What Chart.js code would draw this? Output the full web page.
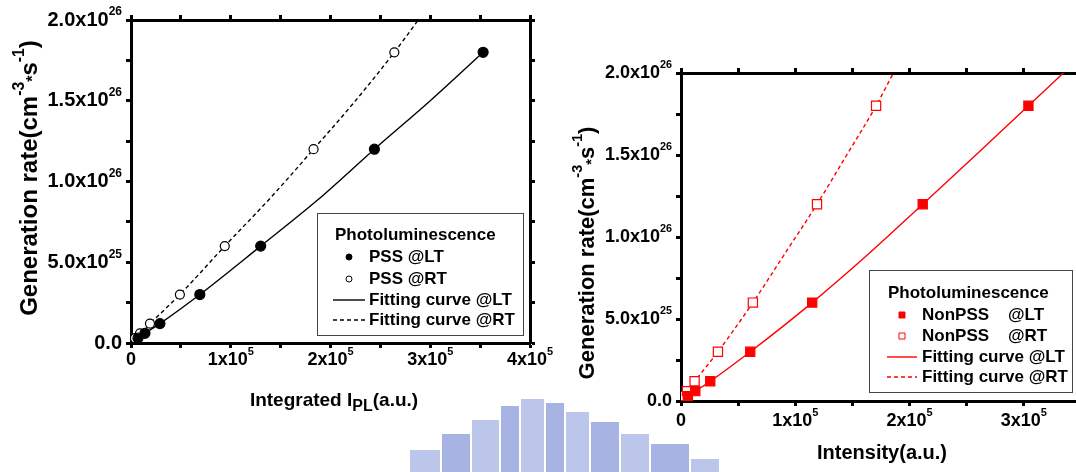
<!DOCTYPE html>
<html>
<head>
<meta charset="utf-8">
<script src="https://cdn.jsdelivr.net/npm/chart.js@4.4.0/dist/chart.umd.min.js"></script>
<style>
  html, body { margin: 0; padding: 0; background: #fff; overflow: hidden; width: 1076px; height: 472px; }
  .panel { position: absolute; top: 0; width: 560px; height: 472px; }
  .logo { position: absolute; background: #bcc5ea; }
  .logo.d { background: #a7b3e2; }
</style>
</head>
<body>
<!-- faint watermark blocks at the bottom -->
<div class="logo" style="left:410px;top:450px;width:30px;height:22px"></div>
<div class="logo d" style="left:442px;top:434px;width:28px;height:38px"></div>
<div class="logo" style="left:472px;top:420px;width:27px;height:52px"></div>
<div class="logo d" style="left:501px;top:406px;width:18px;height:66px"></div>
<div class="logo" style="left:521px;top:399px;width:23px;height:73px"></div>
<div class="logo d" style="left:546px;top:403px;width:18px;height:69px"></div>
<div class="logo" style="left:566px;top:412px;width:23px;height:60px"></div>
<div class="logo d" style="left:591px;top:422px;width:28px;height:50px"></div>
<div class="logo" style="left:621px;top:434px;width:28px;height:38px"></div>
<div class="logo d" style="left:651px;top:444px;width:38px;height:28px"></div>
<div class="logo" style="left:691px;top:459px;width:28px;height:13px"></div>

<div class="panel" style="left:0"><canvas id="chartL" width="560" height="472"></canvas></div>
<div class="panel" style="left:560px"><canvas id="chartR" width="560" height="472"></canvas></div>

<script>
// ---- left panel : PSS, Integrated I_PL (a.u.) vs generation rate ----
var pssLtX = [0.07e5, 0.14e5, 0.29e5, 0.69e5, 1.30e5, 2.44e5, 3.53e5];
var pssLtY = [3e24, 6e24, 1.2e25, 3e25, 6e25, 1.2e26, 1.8e26];
var pssRtX = [0.04e5, 0.09e5, 0.19e5, 0.49e5, 0.94e5, 1.83e5, 2.64e5];
var pssRtY = [3e24, 6e24, 1.2e25, 3e25, 6e25, 1.2e26, 1.8e26];
var fitPssLtX = [0.01e5, 0.07e5, 0.14e5, 0.29e5, 0.69e5, 1.30e5, 1.87e5, 2.44e5, 3.00e5, 3.53e5];
var fitPssLtY = [0, 3e24, 6e24, 1.2e25, 3e25, 6e25, 8.85e25, 1.2e26, 1.5e26, 1.8e26];
var fitPssRtX = [0.01e5, 0.04e5, 0.09e5, 0.19e5, 0.49e5, 0.94e5, 1.40e5, 1.83e5, 2.25e5, 2.64e5, 2.88e5];
var fitPssRtY = [0, 3e24, 6e24, 1.2e25, 3e25, 6e25, 9.0e25, 1.2e26, 1.5e26, 1.8e26, 2.0e26];

// ---- right panel : NonPSS, Intensity (a.u.) vs generation rate ----
var nonLtX = [0.06e5, 0.125e5, 0.256e5, 0.606e5, 1.148e5, 2.115e5, 3.04e5];
var nonLtY = [3e24, 6e24, 1.2e25, 3e25, 6e25, 1.2e26, 1.8e26];
var nonRtX = [0.02e5, 0.052e5, 0.119e5, 0.323e5, 0.629e5, 1.19e5, 1.707e5];
var nonRtY = [3e24, 6e24, 1.2e25, 3e25, 6e25, 1.2e26, 1.8e26];
var fitNonLtX = [0.01e5, 0.06e5, 0.125e5, 0.256e5, 0.606e5, 1.148e5, 1.63e5, 2.115e5, 2.58e5, 3.04e5, 3.345e5];
var fitNonLtY = [0, 3e24, 6e24, 1.2e25, 3e25, 6e25, 8.9e25, 1.2e26, 1.5e26, 1.8e26, 2.0e26];
var fitNonRtX = [0.005e5, 0.02e5, 0.052e5, 0.119e5, 0.323e5, 0.629e5, 0.91e5, 1.19e5, 1.45e5, 1.707e5, 1.858e5];
var fitNonRtY = [0, 3e24, 6e24, 1.2e25, 3e25, 6e25, 9.0e25, 1.2e26, 1.5e26, 1.8e26, 2.0e26];

// ---- ticks (major + minor marks) and labels ----
var yTicks = [0, 0.25e26, 0.5e26, 0.75e26, 1e26, 1.25e26, 1.5e26, 1.75e26, 2e26];
var yLabelVals = [0, 0.5e26, 1e26, 1.5e26, 2e26];
var yLabels = ['0.0', '5.0x10^25', '1.0x10^26', '1.5x10^26', '2.0x10^26'];
var xTicksL = [0, 0.5e5, 1e5, 1.5e5, 2e5, 2.5e5, 3e5, 3.5e5, 4e5];
var xLabelValsL = [0, 1e5, 2e5, 3e5, 4e5];
var xLabelsL = ['0', '1x10^5', '2x10^5', '3x10^5', '4x10^5'];
var xTicksR = [0, 0.5e5, 1e5, 1.5e5, 2e5, 2.5e5, 3e5, 3.5e5];
var xLabelValsR = [0, 1e5, 2e5, 3e5];
var xLabelsR = ['0', '1x10^5', '2x10^5', '3x10^5'];

var FONT = '"Liberation Sans", Arial, Helvetica, sans-serif';

function pts(xs, ys) {
  return xs.map(function (x, i) { return {x: x, y: ys[i]}; });
}

// "1.5x10^26" -> [['1.5x10',''],['26','sup']]
function supParts(s) {
  var p = s.split('^');
  return p.length > 1 ? [[p[0], ''], [p[1], 'sup']] : [[p[0], '']];
}

/*
 * draw a row of text pieces with super/subscripts
 * [segs] - list of [text, kind], kind is '' / 'sup' / 'sub'
 */
function richText(ctx, segs, x, y, o) {
  var w = 0, items = [];
  segs.forEach(function (s) {
    var size = s[1] ? o.small : o.size;
    ctx.font = 'bold ' + size + 'px ' + FONT;
    var mw = ctx.measureText(s[0]).width;
    items.push({t: s[0], size: size, w: mw, dy: s[1] === 'sup' ? o.supDy : (s[1] === 'sub' ? o.subDy : 0)});
    w += mw;
  });
  ctx.save();
  ctx.translate(x, y);
  if (o.rot) ctx.rotate(o.rot);
  var cx = o.align === 'right' ? -w : (o.align === 'left' ? 0 : -w / 2);
  ctx.textBaseline = 'middle';
  ctx.textAlign = 'left';
  ctx.fillStyle = '#000';
  items.forEach(function (it) {
    ctx.font = 'bold ' + it.size + 'px ' + FONT;
    ctx.fillText(it.t, cx, it.dy);
    cx += it.w;
  });
  ctx.restore();
}

// tick labels, axis titles and the boxed legend
var decorPlugin = {
  id: 'decor',
  afterDraw: function (chart, args, o) {
    var ctx = chart.ctx, xs = chart.scales.x, ys = chart.scales.y;

    o.yVals.forEach(function (v, i) {
      richText(ctx, supParts(o.yLabels[i]), xs.left - 9, ys.getPixelForValue(v),
        {size: o.yTickSize, small: o.yTickSize * 0.6, supDy: -8, align: 'right'});
    });
    o.xVals.forEach(function (v, i) {
      richText(ctx, supParts(o.xLabels[i]), xs.getPixelForValue(v), ys.bottom + o.xLabelDy,
        {size: 18, small: 11, supDy: -8, align: 'center'});
    });

    richText(ctx, o.yTitle, o.yTitlePos[0], o.yTitlePos[1],
      {size: o.yTitleSize, small: o.yTitleSize * 0.66, supDy: -10, subDy: 4, rot: -Math.PI / 2, align: 'center'});
    richText(ctx, o.xTitle, o.xTitlePos[0], o.xTitlePos[1],
      {size: o.xTitleSize, small: 16, subDy: 6, align: 'center'});

    // legend box
    var L = o.legend;
    ctx.save();
    ctx.fillStyle = '#fff';
    ctx.fillRect(L.box[0], L.box[1], L.box[2], L.box[3]);
    ctx.strokeStyle = '#444';
    ctx.lineWidth = 1;
    ctx.strokeRect(L.box[0] + 0.5, L.box[1] + 0.5, L.box[2], L.box[3]);
    ctx.restore();
    richText(ctx, [[L.title, '']], L.titlePos[0], L.titlePos[1], {size: 17, small: 12, align: 'left'});

    chart.data.datasets.forEach(function (ds, i) {
      var y = L.rows[i];
      ctx.save();
      if (ds.showLine) {
        ctx.strokeStyle = ds.borderColor;
        ctx.lineWidth = ds.borderWidth;
        ctx.setLineDash(ds.borderDash || []);
        ctx.beginPath();
        ctx.moveTo(L.lineX[0], y);
        ctx.lineTo(L.lineX[1], y);
        ctx.stroke();
      } else {
        ctx.fillStyle = ds.pointBackgroundColor;
        ctx.strokeStyle = ds.pointBorderColor;
        ctx.lineWidth = 1;
        ctx.beginPath();
        if (ds.pointStyle === 'rect') {
          ctx.rect(L.markX - 3, y - 3, 6, 6);
        } else {
          ctx.arc(L.markX, y, 3, 0, Math.PI * 2);
        }
        ctx.fill();
        ctx.stroke();
      }
      ctx.restore();
      richText(ctx, [[ds.label, '']], L.textX, y, {size: 17, small: 12, align: 'left'});
    });
  }
};

function axis(pos, min, max, ticks, size) {
  return {
    type: 'linear', position: pos, min: min, max: max,
    afterBuildTicks: function (s) { s.ticks = ticks.map(function (v) { return {value: v}; }); },
    afterFit: function (s) { if (s.isHorizontal()) s.height = size; else s.width = size; },
    ticks: {display: false},
    grid: {drawOnChartArea: false, drawTicks: true, tickLength: 5, tickWidth: 3, tickColor: '#000'},
    border: {display: true, width: 3, color: '#000'}
  };
}

function pointSet(label, xs, ys, style, fill, color, r) {
  return {
    label: label, data: pts(xs, ys), showLine: false,
    pointStyle: style, pointRadius: r, pointBackgroundColor: fill,
    pointBorderColor: color, pointBorderWidth: 1.2
  };
}

function curveSet(label, xs, ys, color, dash) {
  return {
    label: label, data: pts(xs, ys), showLine: true, pointRadius: 0,
    borderColor: color, borderWidth: 1.4, borderDash: dash,
    cubicInterpolationMode: 'monotone', fill: false
  };
}

function makeChart(id, datasets, scales, decor) {
  return new Chart(document.getElementById(id), {
    type: 'scatter',
    data: {datasets: datasets},
    options: {
      responsive: false, animation: false, events: [],
      layout: {padding: 0, autoPadding: false},
      scales: scales,
      plugins: {legend: {display: false}, tooltip: {enabled: false}, decor: decor}
    },
    plugins: [decorPlugin]
  });
}

var yTitle = [['Generation rate(cm', ''], ['-3', 'sup'], ['*', 'sub'], ['s', ''], ['-1', 'sup'], [')', '']];

makeChart('chartL', [
  pointSet('PSS @LT', pssLtX, pssLtY, 'circle', '#000', '#000', 5),
  pointSet('PSS @RT', pssRtX, pssRtY, 'circle', '#fff', '#000', 4.5),
  curveSet('Fitting curve @LT', fitPssLtX, fitPssLtY, '#000', []),
  curveSet('Fitting curve @RT', fitPssRtX, fitPssRtY, '#000', [4, 3])
], {
  x: axis('bottom', 0, 4e5, xTicksL, 129),
  x2: axis('top', 0, 4e5, xTicksL, 20),
  y: axis('left', 0, 2e26, yTicks, 131),
  y2: axis('right', 0, 2e26, yTicks, 30)
}, {
  yTickSize: 20, yTitleSize: 24, xTitleSize: 19,
  yVals: yLabelVals, yLabels: yLabels,
  xVals: xLabelValsL, xLabels: xLabelsL, xLabelDy: 17,
  yTitle: yTitle, yTitlePos: [30, 178],
  xTitle: [['Integrated I', ''], ['PL', 'sub'], ['(a.u.)', '']], xTitlePos: [334, 401],
  legend: {box: [317, 213, 206, 122], title: 'Photoluminescence', titlePos: [335, 235],
           rows: [257, 279, 300, 320], markX: 349, lineX: [333, 365], textX: 369}
});

makeChart('chartR', [
  pointSet('NonPSS    @LT', nonLtX, nonLtY, 'rect', '#ff0000', '#ff0000', 6.5),
  pointSet('NonPSS    @RT', nonRtX, nonRtY, 'rect', '#fff', '#ff0000', 6.5),
  curveSet('Fitting curve @LT', fitNonLtX, fitNonLtY, '#ff0000', []),
  curveSet('Fitting curve @RT', fitNonRtX, fitNonRtY, '#ff0000', [4, 3])
], {
  x: axis('bottom', 0, 3.5e5, xTicksR, 71),
  x2: axis('top', 0, 3.5e5, xTicksR, 73),
  y: axis('left', 0, 2e26, yTicks, 121),
  y2: axis('right', 0, 2e26, yTicks, 39)
}, {
  yTickSize: 18, yTitleSize: 22, xTitleSize: 20,
  yVals: yLabelVals, yLabels: yLabels,
  xVals: xLabelValsR, xLabels: xLabelsR, xLabelDy: 20,
  yTitle: yTitle, yTitlePos: [28, 253],
  xTitle: [['Intensity(a.u.)', '']], xTitlePos: [322, 453],
  legend: {box: [309, 270, 203, 122], title: 'Photoluminescence', titlePos: [328, 293],
           rows: [315, 336, 357, 377], markX: 342, lineX: [327, 357], textX: 362}
});
</script>
</body>
</html>
